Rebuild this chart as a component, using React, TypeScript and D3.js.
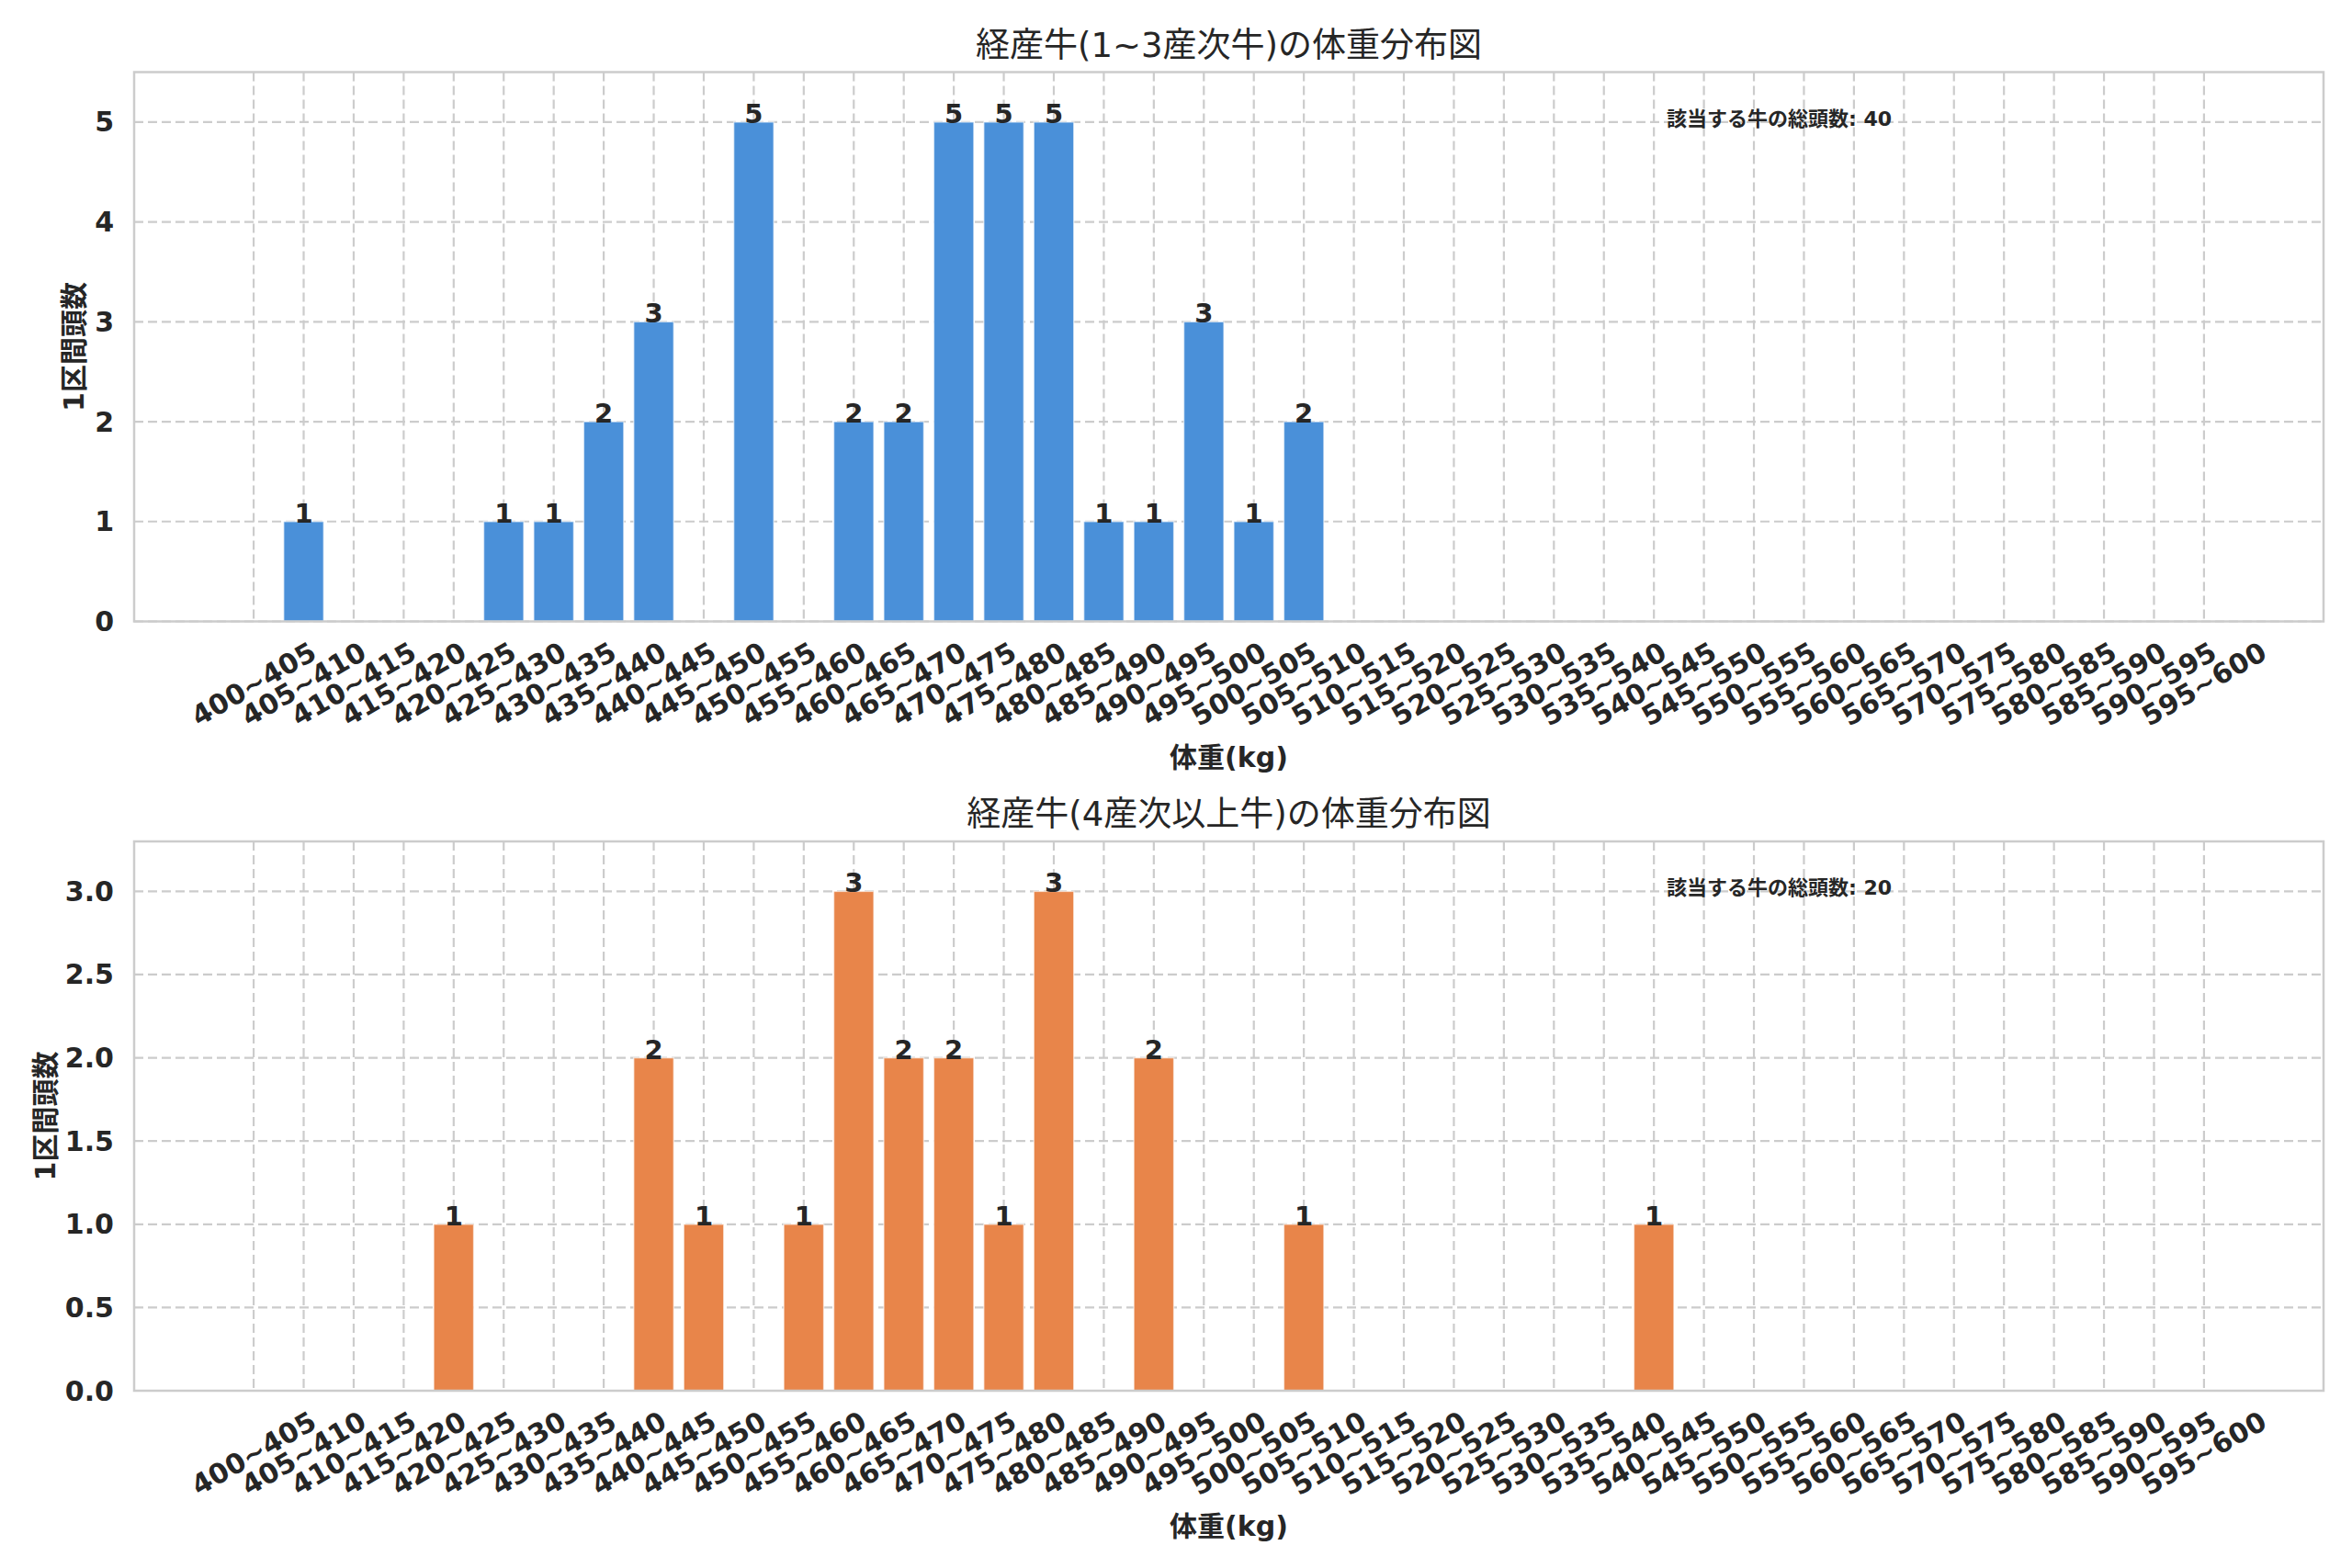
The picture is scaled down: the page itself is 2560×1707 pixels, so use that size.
import * as d3 from "d3";

const W = 2560;
const H = 1707;
const FONT = "'DejaVu Sans', 'Noto Sans CJK JP', sans-serif";
const INK = "#262626";
const GRID = "#cccccc";

const binLabels = [
	"400~405", "405~410", "410~415", "415~420", "420~425", "425~430", "430~435", "435~440",
	"440~445", "445~450", "450~455", "455~460", "460~465", "465~470", "470~475", "475~480",
	"480~485", "485~490", "490~495", "495~500", "500~505", "505~510", "510~515", "515~520",
	"520~525", "525~530", "530~535", "535~540", "540~545", "545~550", "550~555", "555~560",
	"560~565", "565~570", "570~575", "575~580", "580~585", "585~590", "590~595", "595~600",
];

// 1~3産次
const countsYoung = [
	0, 1, 0, 0, 0, 1, 1, 2, 3, 0, 5, 0, 2, 2, 5, 5, 5, 1, 1, 3, 1, 2,
	0, 0, 0, 0, 0, 0, 0, 0, 0, 0, 0, 0, 0, 0, 0, 0, 0, 0,
];
// 4産次以上
const countsOld = [
	0, 0, 0, 0, 1, 0, 0, 0, 2, 1, 0, 1, 3, 2, 2, 1, 3, 0, 2, 0, 0, 1, 0, 0, 0, 0, 0, 0, 1,
	0, 0, 0, 0, 0, 0, 0, 0, 0, 0, 0,
];

const ticksYoung = [0, 1, 2, 3, 4, 5];
const ticksOld = [0, 0.5, 1, 1.5, 2, 2.5, 3];

const titleYoung = "経産牛(1~3産次牛)の体重分布図";
const titleOld = "経産牛(4産次以上牛)の体重分布図";
const xTitle = "体重(kg)";
const yTitle = "1区間頭数";
const totalLabel = "該当する牛の総頭数";

const LEFT = 146;
const RIGHT = 2529;
const PLOT_H = 598;

function Panel({
	top,
	title,
	values,
	color,
	ticks,
	tickFmt,
	yLabelX,
}: {
	top: number;
	title: string;
	values: number[];
	color: string;
	ticks: number[];
	tickFmt: (v: number) => string;
	yLabelX: number;
}) {
	const bottom = top + PLOT_H;
	const n = binLabels.length;
	const x = d3.scaleLinear().domain([-2.39, n - 1 + 2.39]).range([LEFT, RIGHT]);
	const yMax = (d3.max(values) ?? 1) * 1.1;
	const y = d3.scaleLinear().domain([0, yMax]).range([bottom, top]);
	const bw = x(0.8) - x(0);
	const total = d3.sum(values);

	return (
		<g>
			<rect x={LEFT} y={top} width={RIGHT - LEFT} height={PLOT_H} fill="#fff" />
			{/* grid */}
			{ticks.map((t) => (
				<line key={"h" + t} x1={LEFT} x2={RIGHT} y1={y(t)} y2={y(t)} stroke={GRID} strokeWidth={2.2} strokeDasharray="10,5" />
			))}
			{binLabels.map((_, i) => (
				<line key={"v" + i} x1={x(i)} x2={x(i)} y1={top} y2={bottom} stroke={GRID} strokeWidth={2.2} strokeDasharray="10,5" />
			))}
			{/* bars */}
			{values.map((v, i) =>
				v > 0 ? (
					<rect key={"b" + i} x={x(i) - bw / 2} y={y(v)} width={bw} height={y(0) - y(v)} fill={color} stroke="#fff" strokeWidth={1.5} strokeOpacity={0.6} />
				) : null,
			)}
			{values.map((v, i) =>
				v > 0 ? (
					<text key={"l" + i} x={x(i)} y={y(v) + 1} textAnchor="middle" fontSize={29} fontWeight="bold" fill={INK}>
						{v}
					</text>
				) : null,
			)}
			{/* frame */}
			<rect x={LEFT} y={top} width={RIGHT - LEFT} height={PLOT_H} fill="none" stroke={GRID} strokeWidth={2.5} />
			{/* y ticks */}
			{ticks.map((t) => (
				<text key={"yt" + t} x={124} y={y(t)} textAnchor="end" dominantBaseline="central" fontSize={30} fontWeight="bold" fill={INK}>
					{tickFmt(t)}
				</text>
			))}
			{/* x ticks */}
			{binLabels.map((lab, i) => (
				<text
					key={"xt" + i}
					transform={`translate(${x(i)},${bottom + 68}) rotate(-30)`}
					textAnchor="middle"
					dominantBaseline="central"
					fontSize={30}
					fontWeight="bold"
					fill={INK}
				>
					{lab}
				</text>
			))}
			<text x={(LEFT + RIGHT) / 2} y={top - 17} textAnchor="middle" fontSize={37} fill={INK}>
				{title}
			</text>
			<text x={(LEFT + RIGHT) / 2} y={bottom + 158} textAnchor="middle" fontSize={30} fontWeight="bold" fill={INK}>
				{xTitle}
			</text>
			<text
				transform={`translate(${yLabelX},${(top + bottom) / 2}) rotate(-90)`}
				textAnchor="middle"
				dominantBaseline="central"
				fontSize={30}
				fontWeight="bold"
				fill={INK}
			>
				{yTitle}
			</text>
			<text x={LEFT + 0.7 * (RIGHT - LEFT)} y={top + 58} fontSize={22} fontWeight="bold" fill={INK}>
				{`${totalLabel}: ${total}`}
			</text>
		</g>
	);
}

export default function App() {
	return (
		<svg
			width={W}
			height={H}
			viewBox={`0 0 ${W} ${H}`}
			style={{ position: "absolute", left: 0, top: 0, background: "#fff" }}
			fontFamily={FONT}
		>
			<rect width={W} height={H} fill="#fff" />
			<Panel top={78.5} title={titleYoung} values={countsYoung} color="#4A90D9" ticks={ticksYoung} tickFmt={(v) => String(v)} yLabelX={80} />
			<Panel top={916} title={titleOld} values={countsOld} color="#E8854A" ticks={ticksOld} tickFmt={(v) => v.toFixed(1)} yLabelX={49} />
		</svg>
	);
}
